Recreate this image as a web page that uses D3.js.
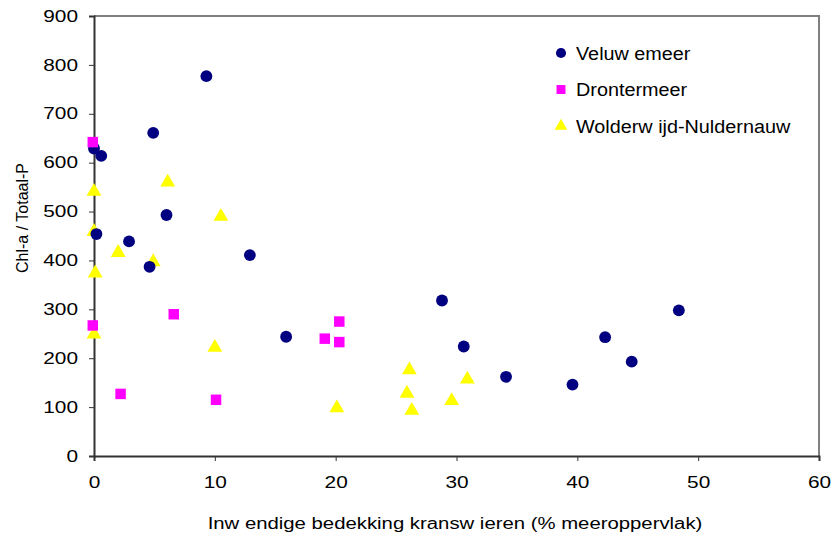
<!DOCTYPE html>
<html>
<head>
<meta charset="UTF-8">
<title>Chl-a / Totaal-P</title>
<script src="https://d3js.org/d3.v7.min.js"></script>
<style>
  body { margin: 0; background: #fff; }
  text { font-family: "Liberation Sans", Arial, sans-serif; fill: #000; }
</style>
</head>
<body>
<div id="chart"></div>
<script>
// data
var veluwX = [9.3, 4.9, 0.6, 0.0, 6.0, 0.2, 2.9, 4.6, 12.9, 15.9, 28.8, 30.6, 34.1, 39.6, 42.3, 44.5, 48.4];
var veluwY = [777, 661, 614, 629, 493, 454, 439, 387, 411, 244, 318, 224, 162, 146, 243, 193, 298];

var dronX = [-0.1, -0.1, 6.6, 2.2, 10.1, 20.3, 19.1, 20.3];
var dronY = [642, 267, 290, 127, 115, 275, 240, 233];

var woldX = [0.0, 6.1, 10.5, 0.0, 2.0, 4.9, 0.1, 0.0, 10.0, 26.1, 30.9, 25.9, 29.6, 20.1, 26.3];
var woldY = [541, 560, 490, 459, 416, 397, 374, 249, 222, 176, 157, 128, 113, 98, 93];

var seriesNames = ["Veluw emeer", "Drontermeer", "Wolderw ijd-Nuldernauw"];
var xTicks = [0, 10, 20, 30, 40, 50, 60];
var yTicks = [0, 100, 200, 300, 400, 500, 600, 700, 800, 900];

var width = 840, height = 538;
var margin = {top: 16, right: 21, bottom: 82, left: 94};

var svg = d3.select("#chart").append("svg")
    .attr("width", width)
    .attr("height", height);

var x = d3.scaleLinear().domain([0, 60]).range([margin.left, width - margin.right]);
var y = d3.scaleLinear().domain([0, 900]).range([height - margin.bottom, margin.top]);

// the original text is drawn a bit wider than the font, stretch it sideways
function stretch(sel, k) {
  sel.each(function() {
    var len = this.getComputedTextLength();
    d3.select(this).attr("textLength", len * k).attr("lengthAdjust", "spacingAndGlyphs");
  });
}

// plot area border (top / right)
svg.append("path")
    .attr("d", "M" + x(0) + "," + y(900) + "H" + x(60) + "V" + y(0))
    .attr("fill", "none")
    .attr("stroke", "#808080")
    .attr("stroke-width", 2);

// axes
var xAxis = d3.axisBottom(x).tickValues(xTicks).tickSize(5).tickPadding(16).tickFormat(d3.format("d"));
var yAxis = d3.axisLeft(y).tickValues(yTicks).tickSize(5).tickPadding(11).tickFormat(d3.format("d"));

var gx = svg.append("g")
    .attr("transform", "translate(0," + y(0) + ")")
    .call(xAxis);
var gy = svg.append("g")
    .attr("transform", "translate(" + x(0) + ",0)")
    .call(yAxis);

[gx, gy].forEach(function(g) {
  g.select(".domain").attr("stroke", "#333").attr("stroke-width", 2);
  g.selectAll(".tick line").attr("stroke", "#333").attr("stroke-width", 1);
  g.selectAll(".tick text")
    .style("font-family", "'Liberation Sans', Arial, sans-serif")
    .style("font-size", "16px")
    .attr("fill", "#000")
    .call(stretch, 1.3);
});

// axis titles
svg.append("text")
    .attr("x", 455)
    .attr("y", 529)
    .attr("text-anchor", "middle")
    .style("font-size", "16px")
    .text("Inw endige bedekking kransw ieren (% meeroppervlak)")
    .call(stretch, 1.27);

svg.append("text")
    .attr("transform", "translate(28,218) rotate(-90)")
    .attr("text-anchor", "middle")
    .style("font-size", "16px")
    .text("Chl-a / Totaal-P");

// markers
var circleSym = d3.symbol().type(d3.symbolCircle).size(110);
var squareSym = d3.symbol().type(d3.symbolSquare).size(110);
var triSym = d3.symbol().type(d3.symbolTriangle).size(95);

var pts = svg.append("g");

pts.selectAll(".wold").data(d3.range(woldX.length)).enter().append("path")
    .attr("class", "wold")
    .attr("d", triSym)
    .attr("transform", function(i) { return "translate(" + x(woldX[i]) + "," + y(woldY[i]) + ")"; })
    .attr("fill", "#ffff00");

pts.selectAll(".veluw").data(d3.range(veluwX.length)).enter().append("path")
    .attr("class", "veluw")
    .attr("d", circleSym)
    .attr("transform", function(i) { return "translate(" + x(veluwX[i]) + "," + y(veluwY[i]) + ")"; })
    .attr("fill", "#000080");

pts.selectAll(".dron").data(d3.range(dronX.length)).enter().append("path")
    .attr("class", "dron")
    .attr("d", squareSym)
    .attr("transform", function(i) { return "translate(" + x(dronX[i]) + "," + y(dronY[i]) + ")"; })
    .attr("fill", "#ff00ff");

// legend
var legendSyms = [d3.symbol().type(d3.symbolCircle).size(80),
                  d3.symbol().type(d3.symbolSquare).size(80),
                  d3.symbol().type(d3.symbolTriangle).size(70)];
var legendColors = ["#000080", "#ff00ff", "#ffff00"];

var legend = svg.append("g").attr("transform", "translate(561,53)");
seriesNames.forEach(function(name, i) {
  var row = legend.append("g").attr("transform", "translate(0," + (i * 36.5) + ")");
  row.append("path").attr("d", legendSyms[i]()).attr("fill", legendColors[i]);
  row.append("text")
      .attr("x", 15)
      .attr("y", 6.5)
      .style("font-size", "18px")
      .text(name)
      .call(stretch, 1.1);
});
</script>
</body>
</html>
